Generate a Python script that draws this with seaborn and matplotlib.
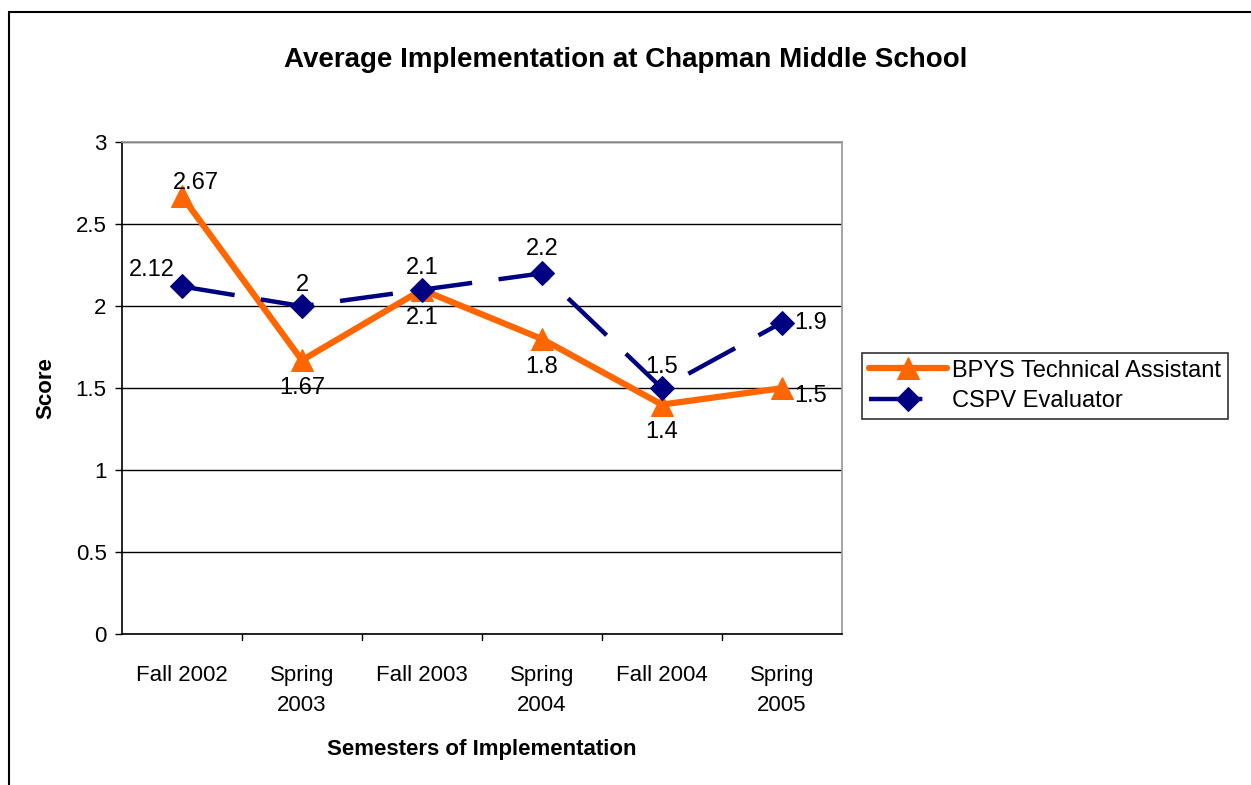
import matplotlib
matplotlib.use("Agg")
import matplotlib.pyplot as plt
import seaborn as sns
import pandas as pd
from matplotlib.patches import Rectangle

semesters = ["Fall 2002", "Spring\n2003", "Fall 2003", "Spring\n2004", "Fall 2004", "Spring\n2005"]
bpys_scores = [2.67, 1.67, 2.1, 1.8, 1.4, 1.5]
cspv_scores = [2.12, 2.0, 2.1, 2.2, 1.5, 1.9]
bpys_labels = ["2.67", "1.67", "2.1", "1.8", "1.4", "1.5"]
cspv_labels = ["2.12", "2", "2.1", "2.2", "1.5", "1.9"]
series_names = ["BPYS Technical Assistant", "CSPV Evaluator"]

sns.set_theme(style="white")
plt.rcParams["font.family"] = ["Liberation Sans", "DejaVu Sans"]
plt.rcParams.update({"text.color": "black", "axes.labelcolor": "black",
                     "xtick.color": "black", "ytick.color": "black"})

df = pd.DataFrame({
    "semester": semesters * 2,
    "pos": list(range(len(semesters))) * 2,
    "score": bpys_scores + cspv_scores,
    "series": [series_names[0]] * 6 + [series_names[1]] * 6,
})

orange = "#FF6600"
navy = "#000080"

fig = plt.figure(figsize=(12.51, 7.85), dpi=100)
ax = fig.add_axes([0.0975, 0.192, 0.5755, 0.627])

sns.lineplot(data=df[df.series == series_names[0]], x="pos", y="score", ax=ax,
             color=orange, lw=4.5, marker="^", markersize=16, markeredgecolor=orange,
             label=series_names[0], zorder=3)
sns.lineplot(data=df[df.series == series_names[1]], x="pos", y="score", ax=ax,
             color=navy, lw=3.2, marker="D", markersize=12, markeredgecolor=navy,
             dashes=False, linestyle=(0, (12, 6)), label=series_names[1], zorder=4)

ax.set_xlim(-0.5, 5.5)
ax.set_ylim(0, 3)
ax.set_yticks([0, 0.5, 1, 1.5, 2, 2.5, 3])
ax.set_yticklabels(["0", "0.5", "1", "1.5", "2", "2.5", "3"])
ax.set_xticks(range(len(semesters)))
ax.set_xticklabels(semesters, linespacing=1.6)
ax.tick_params(axis="both", labelsize=16, colors="black")
ax.tick_params(axis="y", length=5, width=1, left=True, pad=6)
ax.tick_params(axis="x", length=0, pad=22)
for x in [0.5, 1.5, 2.5, 3.5, 4.5]:
    ax.plot([x, x], [0, -0.035], color="black", lw=1, clip_on=False,
            transform=ax.transData)
ax.yaxis.grid(True, color="black", lw=1)
ax.set_axisbelow(True)
for side in ["top", "right"]:
    ax.spines[side].set_color("#999999")
for side in ["left", "bottom"]:
    ax.spines[side].set_color("black")
    ax.spines[side].set_linewidth(1.2)

ax.set_xlabel("Semesters of Implementation", fontsize=16, fontweight="bold", labelpad=16)
ax.set_ylabel("Score", fontsize=16, fontweight="bold", labelpad=14)
fig.text(0.5, 0.924, "Average Implementation at Chapman Middle School",
         ha="center", va="center", fontsize=20, fontweight="bold")

# data labels
bpys_offsets = [(0.12, 0.08), (0.0, -0.17), (0.0, -0.17), (0.0, -0.17), (0.0, -0.17), (0.24, -0.05)]
cspv_offsets = [(-0.25, 0.1), (0.0, 0.13), (0.0, 0.13), (0.0, 0.15), (0.0, 0.13), (0.24, 0.0)]
for i in range(len(semesters)):
    dx, dy = bpys_offsets[i]
    ax.text(i + dx, bpys_scores[i] + dy, bpys_labels[i], ha="center", va="center", fontsize=17)
    dx, dy = cspv_offsets[i]
    ax.text(i + dx, cspv_scores[i] + dy, cspv_labels[i], ha="center", va="center", fontsize=17)

leg = ax.legend(loc="center left", bbox_to_anchor=(1.012, 0.505), fontsize=17,
                frameon=True, fancybox=False, edgecolor="black", handlelength=3.3,
                borderpad=0.3, labelspacing=0.35, handletextpad=0.2)
leg.get_frame().set_linewidth(1.2)

fig.patches.append(Rectangle((9 / 1251, -0.01), 1.02, 1 - 12 / 785 + 0.01,
                             transform=fig.transFigure, fill=False,
                             edgecolor="black", lw=1.5))

fig.savefig("out.png", dpi=100)
